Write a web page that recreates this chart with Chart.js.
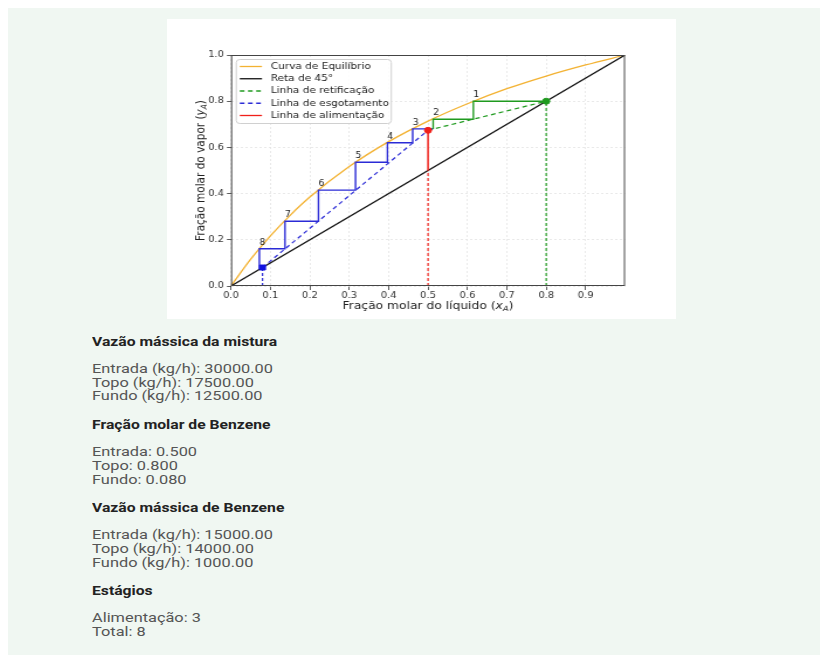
<!DOCTYPE html>
<html lang="pt">
<head>
<meta charset="utf-8">
<title>McCabe-Thiele</title>
<script src="https://cdn.jsdelivr.net/npm/chart.js@4.4.0/dist/chart.umd.min.js"></script>
<style>
  html, body { margin: 0; padding: 0; background: #ffffff; }
  body { width: 820px; height: 655px; position: relative; overflow: hidden; font-family: Roboto, "Noto Sans", sans-serif; }
  #page { position: absolute; left: 8px; top: 8px; width: 812px; height: 647px; background: #f0f7f2; }
  #chartBox { position: absolute; left: 159px; top: 11px; width: 509px; height: 300px; background: #ffffff; overflow: hidden; }
  #stretch { width: 435px; height: 300px; transform: scaleX(1.17); transform-origin: 0 0; }
  #info { position: absolute; left: 84px; top: 325px; }
  #info h4 { margin: 0; font-size: 13.5px; line-height: 16px; font-weight: bold; color: #222; transform: scaleX(1.163); transform-origin: 0 0; white-space: nowrap; }
  #info p { margin: 13px 0; font-size: 13px; line-height: 13.7px; color: #555; transform: scaleX(1.258); transform-origin: 0 0; white-space: nowrap; }
</style>
</head>
<body>
<div id="page">
  <div id="chartBox"><div id="stretch"><canvas id="c" width="435" height="300"></canvas></div></div>
  <div id="info"></div>
</div>
<script>
// Equilibrium curve (liquid / vapour mole fraction of benzene)
const eqX = [0, 0.05, 0.1, 0.15, 0.2, 0.3, 0.4, 0.5, 0.6, 0.7, 0.8, 0.9, 1.0];
const eqY = [0, 0.116, 0.217, 0.306, 0.385, 0.517, 0.625, 0.714, 0.789, 0.854, 0.909, 0.957, 1.0];

// Compositions: feed, distillate (top), bottoms
const xF = 0.5;
const xD = 0.8;
const xW = 0.08;
// Intersection of the operating lines on the feed line
const yFeedIntersect = 0.674;

// Stage corners: x of each stage on the equilibrium curve, and the y levels of the steps
const stageX = [0.615, 0.513, 0.461, 0.397, 0.316, 0.222, 0.137, 0.072];
const stepY = [0.8, 0.722, 0.680, 0.620, 0.536, 0.415, 0.280, 0.161, 0.074];
const feedStage = 3;

// Axis ticks
const xTicks = [0, 0.1, 0.2, 0.3, 0.4, 0.5, 0.6, 0.7, 0.8, 0.9];
const yTicks = [0, 0.2, 0.4, 0.6, 0.8, 1.0];

// Mass balance
const massMix = [30000, 17500, 12500];
const massBenzene = [15000, 14000, 1000];

const legendNames = ['Curva de Equilíbrio', 'Reta de 45°', 'Linha de retificação', 'Linha de esgotamento', 'Linha de alimentação'];

const C_EQ = '#f3b232';
const C_GREEN = '#1f9a1f';
const C_BLUE = '#2b2bd6';
const C_RED = '#f0201a';

// Step paths: rectifying section (green) and stripping section (blue)
const greenSteps = [{ x: xD, y: stepY[0] }];
for (let i = 0; i < feedStage - 1; i++) {
  greenSteps.push({ x: stageX[i], y: stepY[i] });
  greenSteps.push({ x: stageX[i], y: stepY[i + 1] });
}
const blueSteps = [greenSteps[greenSteps.length - 1]];
for (let i = feedStage - 1; i < stageX.length; i++) {
  blueSteps.push({ x: stageX[i], y: stepY[i] });
  blueSteps.push({ x: stageX[i], y: stepY[i + 1] });
}

const FONT = 'DejaVu Sans';

const datasets = [
  { label: legendNames[0], data: eqX.map((x, i) => ({ x, y: eqY[i] })), borderColor: C_EQ, borderWidth: 1.3, cubicInterpolationMode: 'monotone', order: 9 },
  { label: legendNames[1], data: [{ x: 0, y: 0 }, { x: 1, y: 1 }], borderColor: '#111', borderWidth: 1.3, order: 8 },
  { label: legendNames[2], data: [{ x: xF, y: yFeedIntersect }, { x: xD, y: xD }], borderColor: C_GREEN, borderWidth: 1.2, borderDash: [4, 3], order: 7 },
  { label: legendNames[3], data: [{ x: xW, y: xW }, { x: xF, y: yFeedIntersect }], borderColor: C_BLUE, borderWidth: 1.2, borderDash: [4, 3], order: 7 },
  { label: legendNames[4], data: [{ x: xF, y: xF }, { x: xF, y: yFeedIntersect }], borderColor: C_RED, borderWidth: 1.5, order: 6 },
  { data: greenSteps, borderColor: C_GREEN, borderWidth: 1.4, order: 5 },
  { data: blueSteps, borderColor: C_BLUE, borderWidth: 1.4, order: 5 },
  { data: [{ x: xD, y: 0 }, { x: xD, y: xD }], borderColor: C_GREEN, borderWidth: 1.2, borderDash: [3, 2], order: 4 },
  { data: [{ x: xF, y: 0 }, { x: xF, y: xF }], borderColor: C_RED, borderWidth: 1.2, borderDash: [3, 2], order: 4 },
  { data: [{ x: xW, y: 0 }, { x: xW, y: xW }], borderColor: C_BLUE, borderWidth: 1.2, borderDash: [3, 2], order: 4 },
  { data: [{ x: xD, y: xD }], showLine: false, pointRadius: 3, pointBackgroundColor: C_GREEN, pointBorderColor: C_GREEN, order: 1 },
  { data: [{ x: xF, y: yFeedIntersect }], showLine: false, pointRadius: 3, pointBackgroundColor: C_RED, pointBorderColor: C_RED, order: 1 },
  { data: [{ x: xW, y: xW }], showLine: false, pointStyle: 'rect', pointRadius: 3.5, pointBackgroundColor: '#1010e0', pointBorderColor: '#1010e0', order: 1 }
];
datasets.forEach(d => {
  d.showLine = d.showLine !== false;
  if (d.pointRadius === undefined) d.pointRadius = 0;
  d.pointHoverRadius = 0;
  d.fill = false;
});

// Plot frame (all four spines)
const framePlugin = {
  id: 'frame',
  afterDatasetsDraw(chart) {
    const { ctx, chartArea: a } = chart;
    ctx.save();
    ctx.strokeStyle = '#444';
    ctx.lineWidth = 1;
    ctx.strokeRect(a.left + 0.5, a.top + 0.5, a.right - a.left - 1, a.bottom - a.top - 1);
    ctx.restore();
  }
};

// Stage numbers above each step
const stageLabelPlugin = {
  id: 'stageLabels',
  afterDatasetsDraw(chart) {
    const { ctx, scales: { x, y } } = chart;
    ctx.save();
    ctx.font = '8px "' + FONT + '"';
    ctx.fillStyle = '#222';
    ctx.textAlign = 'center';
    ctx.textBaseline = 'bottom';
    stageX.forEach((sx, i) => {
      ctx.fillText(String(i + 1), x.getPixelForValue(sx) + 2.5, y.getPixelForValue(stepY[i]) - 2);
    });
    ctx.restore();
  }
};

// Axis titles with subscripted symbols
function drawLabel(ctx, parts, cx, cy, rotate) {
  ctx.save();
  ctx.translate(cx, cy);
  if (rotate) ctx.rotate(-Math.PI / 2);
  const size = 10.5;
  const fonts = parts.map(p => p.sub ? 'italic ' + (size * 0.7) + 'px "' + FONT + '"' : (p.it ? 'italic ' : '') + size + 'px "' + FONT + '"');
  let total = 0;
  const widths = parts.map((p, i) => { ctx.font = fonts[i]; const w = ctx.measureText(p.t).width; total += w; return w; });
  let xx = -total / 2;
  ctx.fillStyle = '#222';
  ctx.textBaseline = 'middle';
  parts.forEach((p, i) => {
    ctx.font = fonts[i];
    ctx.fillText(p.t, xx, p.sub ? 3 : 0);
    xx += widths[i];
  });
  ctx.restore();
}
const axisTitlePlugin = {
  id: 'axisTitles',
  afterDraw(chart) {
    const { ctx, chartArea: a } = chart;
    drawLabel(ctx, [{ t: 'Fração molar do líquido (' }, { t: 'x', it: true }, { t: 'A', sub: true }, { t: ')' }], (a.left + a.right) / 2, 287, false);
    drawLabel(ctx, [{ t: 'Fração molar do vapor (' }, { t: 'y', it: true }, { t: 'A', sub: true }, { t: ')' }], 29, (a.top + a.bottom) / 2, true);
  }
};

// Framed legend in the upper-left corner of the plot
const legendBoxPlugin = {
  id: 'legendBox',
  afterDraw(chart) {
    const { ctx, chartArea: a } = chart;
    const items = chart.data.datasets.filter(d => d.label);
    const bx = a.left + 4, by = a.top + 4, bw = 132.5, bh = 64, rowH = 12.25;
    ctx.save();
    ctx.beginPath();
    ctx.roundRect(bx + 0.5, by + 0.5, bw, bh, 3);
    ctx.fillStyle = 'rgba(255,255,255,0.85)';
    ctx.fill();
    ctx.strokeStyle = '#d0d0d0';
    ctx.lineWidth = 1;
    ctx.stroke();
    ctx.font = '9px "' + FONT + '"';
    ctx.textBaseline = 'middle';
    items.forEach((d, i) => {
      const yy = by + 7.5 + i * rowH;
      ctx.beginPath();
      ctx.setLineDash(d.borderDash || []);
      ctx.strokeStyle = d.borderColor;
      ctx.lineWidth = 1.3;
      ctx.moveTo(bx + 3.5, yy);
      ctx.lineTo(bx + 22.5, yy);
      ctx.stroke();
      ctx.setLineDash([]);
      ctx.fillStyle = '#222';
      ctx.fillText(d.label, bx + 30, yy);
    });
    ctx.restore();
  }
};

new Chart(document.getElementById('c'), {
  type: 'scatter',
  data: { datasets },
  options: {
    responsive: false,
    animation: false,
    events: [],
    layout: { padding: { left: 0, top: 36, right: 43.5, bottom: 0 } },
    plugins: { legend: { display: false }, tooltip: { enabled: false } },
    scales: {
      x: {
        type: 'linear', min: 0, max: 1,
        afterBuildTicks: s => { s.ticks = xTicks.map(v => ({ value: v })); },
        afterFit: s => { s.height = 33; },
        ticks: { font: { family: FONT, size: 8.5 }, color: '#333', padding: 1, maxRotation: 0, autoSkip: false, callback: v => Number(v).toFixed(1) },
        grid: { color: '#e4e4e4', lineWidth: 0.8, tickColor: '#333', tickLength: 4, tickWidth: 0.8 },
        border: { display: false, dash: [2, 2] }
      },
      y: {
        type: 'linear', min: 0, max: 1,
        afterBuildTicks: s => { s.ticks = yTicks.map(v => ({ value: v })); },
        afterFit: s => { s.width = 54.7; },
        ticks: { font: { family: FONT, size: 8.5 }, color: '#333', padding: 2.5, autoSkip: false, callback: v => Number(v).toFixed(1) },
        grid: { color: '#e4e4e4', lineWidth: 0.8, tickColor: '#333', tickLength: 3.5, tickWidth: 0.8 },
        border: { display: false, dash: [2, 2] }
      }
    }
  },
  plugins: [framePlugin, stageLabelPlugin, legendBoxPlugin, axisTitlePlugin]
});

// Summary below the chart
const sections = [
  { title: 'Vazão mássica da mistura', lines: ['Entrada (kg/h): ' + massMix[0].toFixed(2), 'Topo (kg/h): ' + massMix[1].toFixed(2), 'Fundo (kg/h): ' + massMix[2].toFixed(2)] },
  { title: 'Fração molar de Benzene', lines: ['Entrada: ' + xF.toFixed(3), 'Topo: ' + xD.toFixed(3), 'Fundo: ' + xW.toFixed(3)] },
  { title: 'Vazão mássica de Benzene', lines: ['Entrada (kg/h): ' + massBenzene[0].toFixed(2), 'Topo (kg/h): ' + massBenzene[1].toFixed(2), 'Fundo (kg/h): ' + massBenzene[2].toFixed(2)] },
  { title: 'Estágios', lines: ['Alimentação: ' + feedStage, 'Total: ' + stageX.length] }
];
const info = document.getElementById('info');
sections.forEach(s => {
  const h = document.createElement('h4');
  h.textContent = s.title;
  info.appendChild(h);
  const p = document.createElement('p');
  p.innerHTML = s.lines.join('<br>');
  info.appendChild(p);
});
</script>
</body>
</html>
